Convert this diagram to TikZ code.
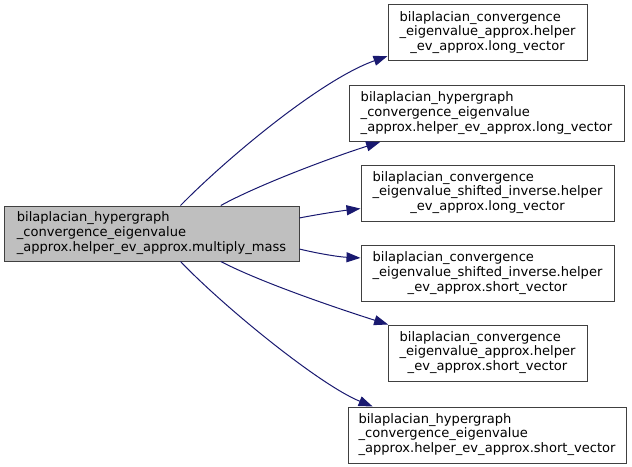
\documentclass[tikz,border=0pt]{standalone}
\usepackage{fontspec}
\setmainfont{DejaVu Sans}
\usetikzlibrary{arrows.meta}

\definecolor{edgeblue}{HTML}{191970}
\definecolor{boxline}{HTML}{404040}
\definecolor{mainfill}{HTML}{BFBFBF}

% 三行标签: 前两行左对齐, 末行居中
\newcommand{\fnlabel}[3]{\begin{tabular}{@{}l@{}}#1\\#2\\\multicolumn{1}{@{}c@{}}{#3}\end{tabular}}

\begin{document}
\begin{tikzpicture}[
    x=0.75pt, y=-0.75pt,
    fn/.style={rectangle, draw=boxline, line width=0.75pt, fill=white, minimum height=42pt, inner sep=0pt,
        font=\fontsize{9.8}{11.2}\selectfont},
    caller/.style={fn, fill=mainfill, minimum height=41.25pt},
    call/.style={draw=edgeblue, line width=0.75pt, -{Triangle[length=10.5pt, width=7.5pt]}, edgeblue}
]
\useasboundingbox (0,0) rectangle (632,467);

% 调用者
\node[caller, minimum width=221.25pt] (mass) at (151.5,233.5)
    {\fnlabel{bilaplacian\_hypergraph}{\_convergence\_eigenvalue}{\_approx.helper\_ev\_approx.multiply\_mass}};

% 被调用函数
\node[fn, minimum width=149.25pt] (convlong) at (487.5,33)
    {\fnlabel{bilaplacian\_convergence}{\_eigenvalue\_approx.helper}{\_ev\_approx.long\_vector}};
\node[fn, minimum width=206.25pt] (hyperlong) at (486.5,113.5)
    {\fnlabel{bilaplacian\_hypergraph}{\_convergence\_eigenvalue}{\_approx.helper\_ev\_approx.long\_vector}};
\node[fn, minimum width=189.75pt] (shiftlong) at (487.5,193)
    {\fnlabel{bilaplacian\_convergence}{\_eigenvalue\_shifted\_inverse.helper}{\_ev\_approx.long\_vector}};
\node[fn, minimum width=189.75pt] (shiftshort) at (487.5,273.5)
    {\fnlabel{bilaplacian\_convergence}{\_eigenvalue\_shifted\_inverse.helper}{\_ev\_approx.short\_vector}};
\node[fn, minimum width=149.25pt] (convshort) at (487.5,353)
    {\fnlabel{bilaplacian\_convergence}{\_eigenvalue\_approx.helper}{\_ev\_approx.short\_vector}};
\node[fn, minimum width=208.5pt] (hypershort) at (487,435)
    {\fnlabel{bilaplacian\_hypergraph}{\_convergence\_eigenvalue}{\_approx.helper\_ev\_approx.short\_vector}};

% 调用边
\draw[call] (mass.44) .. controls (225,160) and (320,80) .. (convlong.193.4);
\draw[call] (mass.22.8) .. controls (258,185) and (330,158) .. (hyperlong.195.2);
\draw[call] (mass.6.4) .. controls (320,214) and (340,211) .. (shiftlong.187.2);
\draw[call] (mass.-6.8) .. controls (320,254) and (340,257) .. (shiftshort.173);
\draw[call] (mass.-22.8) .. controls (258,281) and (330,306) .. (convshort.164);
\draw[call] (mass.-44) .. controls (225,308) and (320,385) .. (hypershort.166.2);

\end{tikzpicture}
\end{document}
